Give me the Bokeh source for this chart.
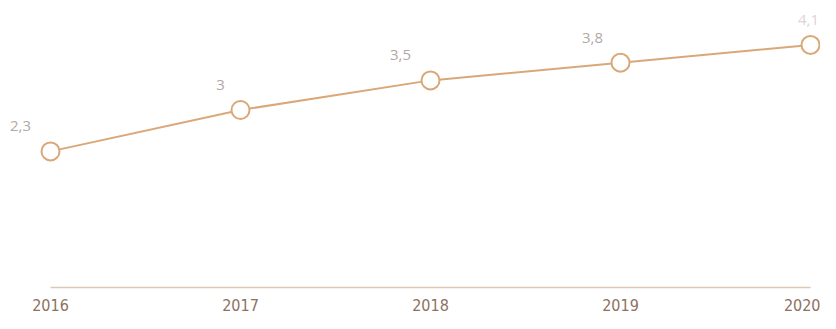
from bokeh.plotting import figure
from bokeh.models import ColumnDataSource, Range1d, LabelSet, FixedTicker
from bokeh.core.properties import value
from bokeh.embed import file_html
from bokeh.resources import INLINE

years = [2016, 2017, 2018, 2019, 2020]
values = [2.3, 3.0, 3.5, 3.8, 4.1]
value_labels = ["2,3", "3", "3,5", "3,8", "4,1"]

# style-only: label placement and colours
label_dx = [-30, -20, -30, -28, -2]
label_colors = ["#b3a8a5", "#b3a8a5", "#b3a8a5", "#b3a8a5", "#ddd5d3"]

src = ColumnDataSource(dict(x=years, y=values, t=value_labels, dx=label_dx, c=label_colors))

p = figure(width=820, height=313, output_backend="svg", toolbar_location=None,
           x_range=Range1d(2016 - 50/190, 2016 + 770/190),
           y_range=Range1d(0, 291/60),
           min_border_left=0, min_border_right=0, min_border_top=0, min_border_bottom=22)
p.outline_line_color = None
p.xgrid.visible = False
p.ygrid.visible = False
p.yaxis.visible = False
p.background_fill_color = "white"

ax = p.xaxis[0]
ax.ticker = FixedTicker(ticks=years)
ax.bounds = (2016, 2020)
ax.axis_line_color = "#dcc8b4"
ax.axis_line_width = 1.5
ax.major_tick_line_color = None
ax.minor_tick_line_color = None
ax.major_label_standoff = 5
ax.major_label_text_font = "DejaVu Sans Condensed"
ax.major_label_text_font_size = "16px"
ax.major_label_text_color = "#8c7260"

line_color = "#daa878"
p.line("x", "y", source=src, line_color=line_color, line_width=2)
p.scatter("x", "y", source=src, size=18, fill_color="white", line_color=line_color, line_width=2)

labels = LabelSet(x="x", y="y", text="t", source=src, x_offset="dx", y_offset=25,
                  text_align="center", text_baseline="middle",
                  text_font=value("Open Sans"), text_font_size=value("15px"), text_color="c")
p.add_layout(labels)

open("out.html", "w").write(file_html(p, INLINE))
